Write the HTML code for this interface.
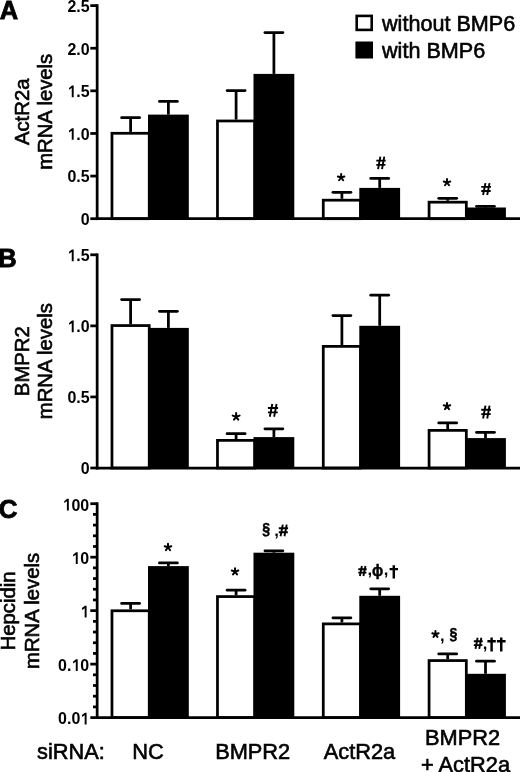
<!DOCTYPE html>
<html><head><meta charset="utf-8"><style>
html,body{margin:0;padding:0;background:#fff;}
body{width:520px;height:772px;overflow:hidden;}
svg{display:block;font-family:"Liberation Sans", sans-serif;will-change:transform;}
.r{stroke:#000;stroke-width:0.6px;}
</style></head><body>
<svg width="520" height="772" viewBox="0 0 520 772" fill="#000">
<line x1="97.15" y1="4.22" x2="97.15" y2="220.07" stroke="#000" stroke-width="2.75"/>
<line x1="90.30" y1="218.70" x2="97.15" y2="218.70" stroke="#000" stroke-width="2.75"/>
<line x1="90.30" y1="176.08" x2="97.15" y2="176.08" stroke="#000" stroke-width="2.75"/>
<line x1="90.30" y1="133.46" x2="97.15" y2="133.46" stroke="#000" stroke-width="2.75"/>
<line x1="90.30" y1="90.84" x2="97.15" y2="90.84" stroke="#000" stroke-width="2.75"/>
<line x1="90.30" y1="48.22" x2="97.15" y2="48.22" stroke="#000" stroke-width="2.75"/>
<line x1="90.30" y1="5.60" x2="97.15" y2="5.60" stroke="#000" stroke-width="2.75"/>
<text transform="translate(80.71,225.10) scale(0.94,1)" font-size="17.00" font-weight="bold">0</text>
<text transform="translate(67.39,182.48) scale(0.94,1)" font-size="17.00" font-weight="bold">0</text>
<text transform="translate(76.27,182.48) scale(0.94,1)" font-size="17.00" font-weight="bold">.</text>
<text transform="translate(80.71,182.48) scale(0.94,1)" font-size="17.00" font-weight="bold">5</text>
<path transform="translate(67.39,139.86) scale(0.00780,-0.00830)" d="M560,0L560,1100L215,895L215,1125L590,1409L805,1409L805,0Z"/>
<text transform="translate(76.27,139.86) scale(0.94,1)" font-size="17.00" font-weight="bold">.</text>
<text transform="translate(80.71,139.86) scale(0.94,1)" font-size="17.00" font-weight="bold">0</text>
<path transform="translate(67.39,97.24) scale(0.00780,-0.00830)" d="M560,0L560,1100L215,895L215,1125L590,1409L805,1409L805,0Z"/>
<text transform="translate(76.27,97.24) scale(0.94,1)" font-size="17.00" font-weight="bold">.</text>
<text transform="translate(80.71,97.24) scale(0.94,1)" font-size="17.00" font-weight="bold">5</text>
<text transform="translate(67.39,54.62) scale(0.94,1)" font-size="17.00" font-weight="bold">2</text>
<text transform="translate(76.27,54.62) scale(0.94,1)" font-size="17.00" font-weight="bold">.</text>
<text transform="translate(80.71,54.62) scale(0.94,1)" font-size="17.00" font-weight="bold">0</text>
<text transform="translate(67.39,12.00) scale(0.94,1)" font-size="17.00" font-weight="bold">2</text>
<text transform="translate(76.27,12.00) scale(0.94,1)" font-size="17.00" font-weight="bold">.</text>
<text transform="translate(80.71,12.00) scale(0.94,1)" font-size="17.00" font-weight="bold">5</text>
<rect x="111.97" y="133.28" width="37.25" height="85.42" fill="#fff" stroke="#000" stroke-width="2.75"/>
<line x1="130.60" y1="131.90" x2="130.60" y2="117.65" stroke="#000" stroke-width="2.75"/>
<line x1="121.62" y1="117.65" x2="139.57" y2="117.65" stroke="#000" stroke-width="2.75" stroke-linecap="round"/>
<rect x="148.00" y="114.60" width="40.80" height="104.10" fill="#000"/>
<line x1="168.40" y1="114.60" x2="168.40" y2="101.45" stroke="#000" stroke-width="2.75"/>
<line x1="159.43" y1="101.45" x2="177.38" y2="101.45" stroke="#000" stroke-width="2.75" stroke-linecap="round"/>
<rect x="217.47" y="120.97" width="37.25" height="97.72" fill="#fff" stroke="#000" stroke-width="2.75"/>
<line x1="236.10" y1="119.60" x2="236.10" y2="90.50" stroke="#000" stroke-width="2.75"/>
<line x1="227.12" y1="90.50" x2="245.07" y2="90.50" stroke="#000" stroke-width="2.75" stroke-linecap="round"/>
<rect x="253.50" y="73.90" width="40.80" height="144.80" fill="#000"/>
<line x1="273.90" y1="73.90" x2="273.90" y2="32.50" stroke="#000" stroke-width="2.75"/>
<line x1="264.92" y1="32.50" x2="282.88" y2="32.50" stroke="#000" stroke-width="2.75" stroke-linecap="round"/>
<rect x="323.27" y="200.18" width="37.25" height="18.52" fill="#fff" stroke="#000" stroke-width="2.75"/>
<line x1="341.90" y1="198.80" x2="341.90" y2="192.25" stroke="#000" stroke-width="2.75"/>
<line x1="332.92" y1="192.25" x2="350.88" y2="192.25" stroke="#000" stroke-width="2.75" stroke-linecap="round"/>
<rect x="359.30" y="187.90" width="40.80" height="30.80" fill="#000"/>
<line x1="379.70" y1="187.90" x2="379.70" y2="178.40" stroke="#000" stroke-width="2.75"/>
<line x1="370.72" y1="178.40" x2="388.67" y2="178.40" stroke="#000" stroke-width="2.75" stroke-linecap="round"/>
<rect x="429.07" y="202.18" width="37.25" height="16.52" fill="#fff" stroke="#000" stroke-width="2.75"/>
<line x1="447.70" y1="200.80" x2="447.70" y2="198.30" stroke="#000" stroke-width="2.75"/>
<line x1="438.72" y1="198.30" x2="456.68" y2="198.30" stroke="#000" stroke-width="2.75" stroke-linecap="round"/>
<rect x="465.10" y="207.50" width="40.80" height="11.20" fill="#000"/>
<line x1="485.50" y1="207.50" x2="485.50" y2="206.30" stroke="#000" stroke-width="2.75"/>
<line x1="476.52" y1="206.30" x2="494.47" y2="206.30" stroke="#000" stroke-width="2.75" stroke-linecap="round"/>
<line x1="95.78" y1="218.70" x2="520" y2="218.70" stroke="#000" stroke-width="2.75"/>
<line x1="97.15" y1="253.43" x2="97.15" y2="469.38" stroke="#000" stroke-width="2.75"/>
<line x1="90.30" y1="468.00" x2="97.15" y2="468.00" stroke="#000" stroke-width="2.75"/>
<line x1="90.30" y1="396.93" x2="97.15" y2="396.93" stroke="#000" stroke-width="2.75"/>
<line x1="90.30" y1="325.87" x2="97.15" y2="325.87" stroke="#000" stroke-width="2.75"/>
<line x1="90.30" y1="254.80" x2="97.15" y2="254.80" stroke="#000" stroke-width="2.75"/>
<text transform="translate(80.71,474.40) scale(0.94,1)" font-size="17.00" font-weight="bold">0</text>
<text transform="translate(67.39,403.33) scale(0.94,1)" font-size="17.00" font-weight="bold">0</text>
<text transform="translate(76.27,403.33) scale(0.94,1)" font-size="17.00" font-weight="bold">.</text>
<text transform="translate(80.71,403.33) scale(0.94,1)" font-size="17.00" font-weight="bold">5</text>
<path transform="translate(67.39,332.27) scale(0.00780,-0.00830)" d="M560,0L560,1100L215,895L215,1125L590,1409L805,1409L805,0Z"/>
<text transform="translate(76.27,332.27) scale(0.94,1)" font-size="17.00" font-weight="bold">.</text>
<text transform="translate(80.71,332.27) scale(0.94,1)" font-size="17.00" font-weight="bold">0</text>
<path transform="translate(67.39,261.20) scale(0.00780,-0.00830)" d="M560,0L560,1100L215,895L215,1125L590,1409L805,1409L805,0Z"/>
<text transform="translate(76.27,261.20) scale(0.94,1)" font-size="17.00" font-weight="bold">.</text>
<text transform="translate(80.71,261.20) scale(0.94,1)" font-size="17.00" font-weight="bold">5</text>
<rect x="111.97" y="325.57" width="37.25" height="142.43" fill="#fff" stroke="#000" stroke-width="2.75"/>
<line x1="130.60" y1="324.20" x2="130.60" y2="299.50" stroke="#000" stroke-width="2.75"/>
<line x1="121.62" y1="299.50" x2="139.57" y2="299.50" stroke="#000" stroke-width="2.75" stroke-linecap="round"/>
<rect x="148.00" y="327.90" width="40.80" height="140.10" fill="#000"/>
<line x1="168.40" y1="327.90" x2="168.40" y2="311.30" stroke="#000" stroke-width="2.75"/>
<line x1="159.43" y1="311.30" x2="177.38" y2="311.30" stroke="#000" stroke-width="2.75" stroke-linecap="round"/>
<rect x="217.47" y="440.38" width="37.25" height="27.62" fill="#fff" stroke="#000" stroke-width="2.75"/>
<line x1="236.10" y1="439.00" x2="236.10" y2="433.65" stroke="#000" stroke-width="2.75"/>
<line x1="227.12" y1="433.65" x2="245.07" y2="433.65" stroke="#000" stroke-width="2.75" stroke-linecap="round"/>
<rect x="253.50" y="437.10" width="40.80" height="30.90" fill="#000"/>
<line x1="273.90" y1="437.10" x2="273.90" y2="428.75" stroke="#000" stroke-width="2.75"/>
<line x1="264.92" y1="428.75" x2="282.88" y2="428.75" stroke="#000" stroke-width="2.75" stroke-linecap="round"/>
<rect x="323.27" y="346.38" width="37.25" height="121.62" fill="#fff" stroke="#000" stroke-width="2.75"/>
<line x1="341.90" y1="345.00" x2="341.90" y2="315.50" stroke="#000" stroke-width="2.75"/>
<line x1="332.92" y1="315.50" x2="350.88" y2="315.50" stroke="#000" stroke-width="2.75" stroke-linecap="round"/>
<rect x="359.30" y="325.80" width="40.80" height="142.20" fill="#000"/>
<line x1="379.70" y1="325.80" x2="379.70" y2="295.20" stroke="#000" stroke-width="2.75"/>
<line x1="370.72" y1="295.20" x2="388.67" y2="295.20" stroke="#000" stroke-width="2.75" stroke-linecap="round"/>
<rect x="429.07" y="430.38" width="37.25" height="37.62" fill="#fff" stroke="#000" stroke-width="2.75"/>
<line x1="447.70" y1="429.00" x2="447.70" y2="422.90" stroke="#000" stroke-width="2.75"/>
<line x1="438.72" y1="422.90" x2="456.68" y2="422.90" stroke="#000" stroke-width="2.75" stroke-linecap="round"/>
<rect x="465.10" y="438.10" width="40.80" height="29.90" fill="#000"/>
<line x1="485.50" y1="438.10" x2="485.50" y2="432.30" stroke="#000" stroke-width="2.75"/>
<line x1="476.52" y1="432.30" x2="494.47" y2="432.30" stroke="#000" stroke-width="2.75" stroke-linecap="round"/>
<line x1="95.78" y1="468.00" x2="520" y2="468.00" stroke="#000" stroke-width="2.75"/>
<line x1="97.15" y1="502.32" x2="97.15" y2="718.98" stroke="#000" stroke-width="2.75"/>
<line x1="90.30" y1="717.60" x2="97.15" y2="717.60" stroke="#000" stroke-width="2.75"/>
<line x1="90.30" y1="664.12" x2="97.15" y2="664.12" stroke="#000" stroke-width="2.75"/>
<line x1="90.30" y1="610.65" x2="97.15" y2="610.65" stroke="#000" stroke-width="2.75"/>
<line x1="90.30" y1="557.17" x2="97.15" y2="557.17" stroke="#000" stroke-width="2.75"/>
<line x1="90.30" y1="503.70" x2="97.15" y2="503.70" stroke="#000" stroke-width="2.75"/>
<line x1="93.00" y1="706.90" x2="97.15" y2="706.90" stroke="#000" stroke-width="2.75"/>
<line x1="93.00" y1="696.21" x2="97.15" y2="696.21" stroke="#000" stroke-width="2.75"/>
<line x1="93.00" y1="685.51" x2="97.15" y2="685.51" stroke="#000" stroke-width="2.75"/>
<line x1="93.00" y1="674.82" x2="97.15" y2="674.82" stroke="#000" stroke-width="2.75"/>
<line x1="93.00" y1="653.43" x2="97.15" y2="653.43" stroke="#000" stroke-width="2.75"/>
<line x1="93.00" y1="642.74" x2="97.15" y2="642.74" stroke="#000" stroke-width="2.75"/>
<line x1="93.00" y1="632.04" x2="97.15" y2="632.04" stroke="#000" stroke-width="2.75"/>
<line x1="93.00" y1="621.35" x2="97.15" y2="621.35" stroke="#000" stroke-width="2.75"/>
<line x1="93.00" y1="599.95" x2="97.15" y2="599.95" stroke="#000" stroke-width="2.75"/>
<line x1="93.00" y1="589.26" x2="97.15" y2="589.26" stroke="#000" stroke-width="2.75"/>
<line x1="93.00" y1="578.56" x2="97.15" y2="578.56" stroke="#000" stroke-width="2.75"/>
<line x1="93.00" y1="567.87" x2="97.15" y2="567.87" stroke="#000" stroke-width="2.75"/>
<line x1="93.00" y1="546.48" x2="97.15" y2="546.48" stroke="#000" stroke-width="2.75"/>
<line x1="93.00" y1="535.78" x2="97.15" y2="535.78" stroke="#000" stroke-width="2.75"/>
<line x1="93.00" y1="525.09" x2="97.15" y2="525.09" stroke="#000" stroke-width="2.75"/>
<line x1="93.00" y1="514.39" x2="97.15" y2="514.39" stroke="#000" stroke-width="2.75"/>
<text transform="translate(58.10,724.40) scale(0.94,1)" font-size="17.00" font-weight="bold">0</text>
<text transform="translate(66.99,724.40) scale(0.94,1)" font-size="17.00" font-weight="bold">.</text>
<text transform="translate(71.43,724.40) scale(0.94,1)" font-size="17.00" font-weight="bold">0</text>
<path transform="translate(80.31,724.40) scale(0.00780,-0.00830)" d="M560,0L560,1100L215,895L215,1125L590,1409L805,1409L805,0Z"/>
<text transform="translate(58.10,670.92) scale(0.94,1)" font-size="17.00" font-weight="bold">0</text>
<text transform="translate(66.99,670.92) scale(0.94,1)" font-size="17.00" font-weight="bold">.</text>
<path transform="translate(71.43,670.92) scale(0.00780,-0.00830)" d="M560,0L560,1100L215,895L215,1125L590,1409L805,1409L805,0Z"/>
<text transform="translate(80.31,670.92) scale(0.94,1)" font-size="17.00" font-weight="bold">0</text>
<path transform="translate(80.31,617.45) scale(0.00780,-0.00830)" d="M560,0L560,1100L215,895L215,1125L590,1409L805,1409L805,0Z"/>
<path transform="translate(71.43,563.97) scale(0.00780,-0.00830)" d="M560,0L560,1100L215,895L215,1125L590,1409L805,1409L805,0Z"/>
<text transform="translate(80.31,563.97) scale(0.94,1)" font-size="17.00" font-weight="bold">0</text>
<path transform="translate(62.54,510.50) scale(0.00780,-0.00830)" d="M560,0L560,1100L215,895L215,1125L590,1409L805,1409L805,0Z"/>
<text transform="translate(71.43,510.50) scale(0.94,1)" font-size="17.00" font-weight="bold">0</text>
<text transform="translate(80.31,510.50) scale(0.94,1)" font-size="17.00" font-weight="bold">0</text>
<rect x="111.97" y="610.77" width="37.25" height="106.83" fill="#fff" stroke="#000" stroke-width="2.75"/>
<line x1="130.60" y1="609.40" x2="130.60" y2="603.40" stroke="#000" stroke-width="2.75"/>
<line x1="121.62" y1="603.40" x2="139.57" y2="603.40" stroke="#000" stroke-width="2.75" stroke-linecap="round"/>
<rect x="148.00" y="566.10" width="40.80" height="151.50" fill="#000"/>
<line x1="168.40" y1="566.10" x2="168.40" y2="562.95" stroke="#000" stroke-width="2.75"/>
<line x1="159.43" y1="562.95" x2="177.38" y2="562.95" stroke="#000" stroke-width="2.75" stroke-linecap="round"/>
<rect x="217.47" y="596.58" width="37.25" height="121.02" fill="#fff" stroke="#000" stroke-width="2.75"/>
<line x1="236.10" y1="595.20" x2="236.10" y2="590.20" stroke="#000" stroke-width="2.75"/>
<line x1="227.12" y1="590.20" x2="245.07" y2="590.20" stroke="#000" stroke-width="2.75" stroke-linecap="round"/>
<rect x="253.50" y="552.70" width="40.80" height="164.90" fill="#000"/>
<line x1="273.90" y1="552.70" x2="273.90" y2="550.75" stroke="#000" stroke-width="2.75"/>
<line x1="264.92" y1="550.75" x2="282.88" y2="550.75" stroke="#000" stroke-width="2.75" stroke-linecap="round"/>
<rect x="323.27" y="623.88" width="37.25" height="93.73" fill="#fff" stroke="#000" stroke-width="2.75"/>
<line x1="341.90" y1="622.50" x2="341.90" y2="617.75" stroke="#000" stroke-width="2.75"/>
<line x1="332.92" y1="617.75" x2="350.88" y2="617.75" stroke="#000" stroke-width="2.75" stroke-linecap="round"/>
<rect x="359.30" y="595.80" width="40.80" height="121.80" fill="#000"/>
<line x1="379.70" y1="595.80" x2="379.70" y2="588.85" stroke="#000" stroke-width="2.75"/>
<line x1="370.72" y1="588.85" x2="388.67" y2="588.85" stroke="#000" stroke-width="2.75" stroke-linecap="round"/>
<rect x="429.07" y="660.58" width="37.25" height="57.02" fill="#fff" stroke="#000" stroke-width="2.75"/>
<line x1="447.70" y1="659.20" x2="447.70" y2="653.95" stroke="#000" stroke-width="2.75"/>
<line x1="438.72" y1="653.95" x2="456.68" y2="653.95" stroke="#000" stroke-width="2.75" stroke-linecap="round"/>
<rect x="465.10" y="673.80" width="40.80" height="43.80" fill="#000"/>
<line x1="485.50" y1="673.80" x2="485.50" y2="661.15" stroke="#000" stroke-width="2.75"/>
<line x1="476.52" y1="661.15" x2="494.47" y2="661.15" stroke="#000" stroke-width="2.75" stroke-linecap="round"/>
<line x1="95.78" y1="717.60" x2="520" y2="717.60" stroke="#000" stroke-width="2.75"/>
<text transform="translate(28.6,111.8) rotate(-90)" class="r" text-anchor="middle" font-size="20.3">ActR2a</text>
<text transform="translate(52.3,111.8) rotate(-90)" class="r" text-anchor="middle" font-size="20.3">mRNA levels</text>
<text transform="translate(28.7,361.2) rotate(-90)" class="r" text-anchor="middle" font-size="20.3">BMPR2</text>
<text transform="translate(52.3,361.2) rotate(-90)" class="r" text-anchor="middle" font-size="20.3">mRNA levels</text>
<text transform="translate(14.9,610.9) rotate(-90)" class="r" text-anchor="middle" font-size="20.3">Hepcidin</text>
<text transform="translate(39.2,610.9) rotate(-90)" class="r" text-anchor="middle" font-size="20.3">mRNA levels</text>
<text x="-0.2" y="18.75" font-size="25.5" font-weight="bold" stroke="#000" stroke-width="0.8">A</text>
<text x="-1.7" y="267" font-size="25.5" font-weight="bold" stroke="#000" stroke-width="0.8">B</text>
<text x="-1.3" y="517.6" font-size="26" font-weight="bold" stroke="#000" stroke-width="0.8">C</text>
<rect x="356.7" y="15.9" width="15.000000000000002" height="14.000000000000002" fill="#fff" stroke="#000" stroke-width="2.6"/>
<rect x="355.4" y="41.5" width="17.6" height="17" fill="#000"/>
<text class="r" x="382" y="30.7" font-size="21.6">without BMP6</text>
<text class="r" x="382" y="58.4" font-size="21.6">with BMP6</text>
<path d="M341.15,177.52L341.15,174.10M341.15,177.52L344.40,176.46M341.15,177.52L343.16,180.28M341.15,177.52L339.14,180.28M341.15,177.52L337.90,176.46" stroke="#000" stroke-width="2.0" stroke-linecap="round" fill="none"/>
<path d="M380.34,156.60L378.09,169.20M384.29,156.60L382.03,169.20M376.30,160.63L385.70,160.63M376.30,164.92L385.42,164.92" stroke="#000" stroke-width="1.9" fill="none"/>
<path d="M447.00,182.52L447.00,179.10M447.00,182.52L450.25,181.46M447.00,182.52L449.01,185.28M447.00,182.52L444.99,185.28M447.00,182.52L443.75,181.46" stroke="#000" stroke-width="2.0" stroke-linecap="round" fill="none"/>
<path d="M485.44,183.10L483.10,195.00M489.54,183.10L487.20,195.00M481.25,186.91L491.00,186.91M481.25,190.95L490.71,190.95" stroke="#000" stroke-width="1.9" fill="none"/>
<path d="M236.15,416.73L236.15,413.10M236.15,416.73L239.60,415.61M236.15,416.73L238.28,419.66M236.15,416.73L234.02,419.66M236.15,416.73L232.70,415.61" stroke="#000" stroke-width="2.0" stroke-linecap="round" fill="none"/>
<path d="M272.29,404.00L269.84,416.70M276.57,404.00L274.12,416.70M267.90,408.06L278.10,408.06M267.90,412.38L277.79,412.38" stroke="#000" stroke-width="1.9" fill="none"/>
<path d="M447.00,406.32L447.00,402.90M447.00,406.32L450.25,405.26M447.00,406.32L449.01,409.08M447.00,406.32L444.99,409.08M447.00,406.32L443.75,405.26" stroke="#000" stroke-width="2.0" stroke-linecap="round" fill="none"/>
<path d="M485.44,405.60L483.10,418.50M489.54,405.60L487.20,418.50M481.25,409.73L491.00,409.73M481.25,414.11L490.71,414.11" stroke="#000" stroke-width="1.9" fill="none"/>
<path d="M168.00,547.27L168.00,543.80M168.00,547.27L171.30,546.20M168.00,547.27L170.04,550.08M168.00,547.27L165.96,550.08M168.00,547.27L164.70,546.20" stroke="#000" stroke-width="2.0" stroke-linecap="round" fill="none"/>
<path d="M235.05,571.62L235.05,568.20M235.05,571.62L238.30,570.56M235.05,571.62L237.06,574.38M235.05,571.62L233.04,574.38M235.05,571.62L231.80,570.56" stroke="#000" stroke-width="2.0" stroke-linecap="round" fill="none"/>
<text transform="translate(262.34,535.31) scale(0.883,1)" font-size="15.95" font-weight="bold" stroke="#000" stroke-width="0.5">&#167;</text>
<text x="274.28" y="536.16" font-size="16.5" font-weight="bold">,</text>
<path d="M282.80,524.60L280.57,536.20M286.71,524.60L284.47,536.20M278.80,528.31L288.10,528.31M278.80,532.26L287.82,532.26" stroke="#000" stroke-width="1.9" fill="none"/>
<path d="M361.91,566.00L359.90,576.00M365.44,566.00L363.42,576.00M358.30,569.20L366.70,569.20M358.30,572.60L366.45,572.60" stroke="#000" stroke-width="1.9" fill="none"/>
<text x="367.58" y="575.26" font-size="16.5" font-weight="bold">,</text>
<text transform="translate(371.91,576.14) scale(0.928,1)" font-size="16.20" font-weight="bold" stroke="#000" stroke-width="0.5">&#981;</text>
<text x="383.78" y="575.26" font-size="16.5" font-weight="bold">,</text>
<path d="M393.80,565.30L393.80,578.50M389.60,569.10L398.00,569.10" stroke="#000" stroke-width="2.45" fill="none"/>
<path d="M435.45,634.21L435.45,630.90M435.45,634.21L438.60,633.19M435.45,634.21L437.40,636.89M435.45,634.21L433.50,636.89M435.45,634.21L432.30,633.19" stroke="#000" stroke-width="2.0" stroke-linecap="round" fill="none"/>
<text x="439.98" y="640.86" font-size="16.5" font-weight="bold">,</text>
<text transform="translate(449.54,640.23) scale(0.890,1)" font-size="15.82" font-weight="bold" stroke="#000" stroke-width="0.5">&#167;</text>
<path d="M477.63,637.70L475.49,648.90M481.37,637.70L479.23,648.90M473.80,641.28L482.70,641.28M473.80,645.09L482.43,645.09" stroke="#000" stroke-width="1.9" fill="none"/>
<text x="482.68" y="648.96" font-size="16.5" font-weight="bold">,</text>
<path d="M491.60,637.40L491.60,651.60M487.40,641.20L495.80,641.20" stroke="#000" stroke-width="2.45" fill="none"/>
<path d="M501.25,637.40L501.25,651.60M496.90,641.20L505.60,641.20" stroke="#000" stroke-width="2.45" fill="none"/>
<text x="37" y="758.8" class="r" font-size="21.8">siRNA:</text>
<text x="148" y="758.8" class="r" font-size="21.8" text-anchor="middle">NC</text>
<text x="252.7" y="758.8" class="r" font-size="21.8" text-anchor="middle">BMPR2</text>
<text x="359.5" y="758.8" class="r" font-size="21.8" text-anchor="middle">ActR2a</text>
<text x="462.5" y="745" class="r" font-size="21.8" text-anchor="middle">BMPR2</text>
<text x="465.5" y="771.5" class="r" font-size="21.8" text-anchor="middle">+ ActR2a</text>
</svg>
</body></html>
